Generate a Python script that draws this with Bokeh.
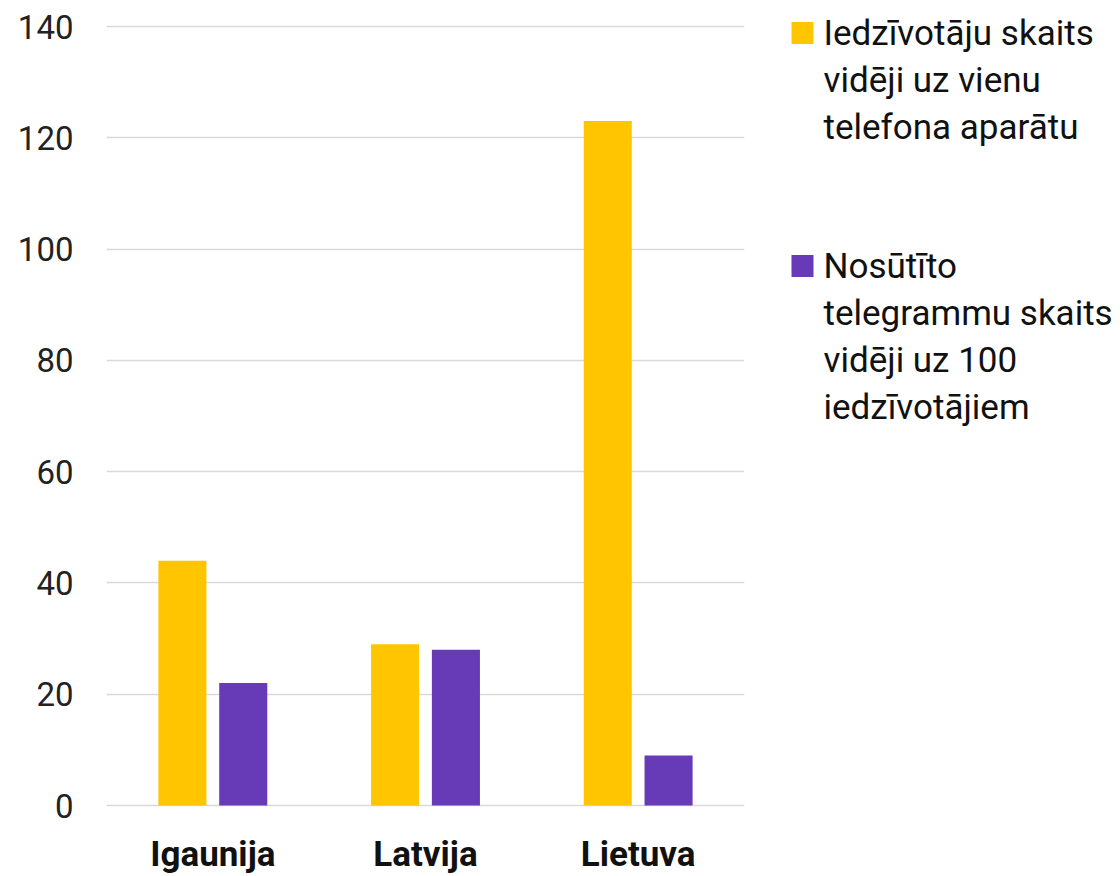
from bokeh.plotting import figure
from bokeh.models import FactorRange, Range1d, ColumnDataSource, FixedTicker
from bokeh.transform import dodge
from bokeh.layouts import row
from bokeh.core.properties import value
from bokeh.embed import file_html
from bokeh.resources import INLINE

countries = ["Igaunija", "Latvija", "Lietuva"]
residents_per_phone = [44, 29, 123]
telegrams_per_100 = [22, 28, 9]
y_ticks = [0, 20, 40, 60, 80, 100, 120, 140]
series_colors = ["#FFC600", "#673AB7"]
legend_lines = [
    ["Iedzīvotāju skaits", "vidēji uz vienu", "telefona aparātu"],
    ["Nosūtīto", "telegrammu skaits", "vidēji uz 100", "iedzīvotājiem"],
]

FONT = "Roboto"
H = 876
# layout: pixel rows where 0 and 140 should sit; frame spans the full height
Y_TOP_PX, Y_ZERO_PX = 26, 805
PPU = (Y_ZERO_PX - Y_TOP_PX) / (y_ticks[-1] - y_ticks[0])
y_start = y_ticks[0] - (H - Y_ZERO_PX) / PPU
y_end = y_ticks[-1] + Y_TOP_PX / PPU
label_y = y_ticks[0] - 49 / PPU  # category labels below baseline

src = ColumnDataSource(dict(country=countries, a=residents_per_phone, b=telegrams_per_100))

p = figure(x_range=FactorRange(factors=countries, range_padding=0),
           y_range=Range1d(y_start, y_end), width=768, height=H,
           output_backend="svg", toolbar_location=None,
           min_border_left=106, min_border_top=0, min_border_right=24,
           min_border_bottom=0)
p.outline_line_color = None
p.background_fill_color = "white"
p.border_fill_color = "white"

p.vbar(x=dodge("country", -0.143, range=p.x_range), top="a", width=0.226,
       source=src, fill_color=series_colors[0], line_color=None)
p.vbar(x=dodge("country", 0.143, range=p.x_range), top="b", width=0.226,
       source=src, fill_color=series_colors[1], line_color=None)

p.xgrid.grid_line_color = None
p.ygrid.grid_line_color = "#d9d9d9"
p.ygrid.grid_line_width = 1.5
p.yaxis.ticker = FixedTicker(ticks=y_ticks)
p.yaxis.axis_line_color = None
p.yaxis.major_tick_line_color = None
p.yaxis.minor_tick_line_color = None
p.yaxis.major_label_text_font = FONT
p.yaxis.major_label_text_font_size = "33px"
p.yaxis.major_label_text_color = "#222222"
p.yaxis.major_label_standoff = 27

p.xaxis.visible = False
p.text(x=countries, y=[label_y] * len(countries), text=countries,
       text_font=value(FONT), text_font_style="bold", text_font_size="35px",
       text_align="center", text_baseline="middle", text_color="#111111")

# legend panel (page-pixel coordinates, y downward)
LW = 352
lg = figure(x_range=Range1d(0, LW), y_range=Range1d(H, 0), width=LW, height=H,
            output_backend="svg", toolbar_location=None,
            min_border_left=0, min_border_right=0,
            min_border_top=0, min_border_bottom=0)
lg.axis.visible = False
lg.grid.visible = False
lg.outline_line_color = None
lg.border_fill_color = "white"
lg.background_fill_color = "white"

item_tops = [32.5, 265.5]
line_h = 47
sq_x, sq_y, tx, ty = [], [], [], []
txt = []
for i, lines in enumerate(legend_lines):
    sq_x.append(34)
    sq_y.append(item_tops[i])
    for j, s in enumerate(lines):
        tx.append(55)
        ty.append(item_tops[i] + j * line_h)
        txt.append(s)
lg.rect(x=sq_x, y=sq_y, width=22, height=22, fill_color=series_colors, line_color=None)
lg.text(x=tx, y=ty, text=txt, text_font=value(FONT), text_font_size="35px",
        text_baseline="middle", text_align="left", text_color="#111111")

layout = row(p, lg)
open("out.html", "w").write(file_html(layout, INLINE))
